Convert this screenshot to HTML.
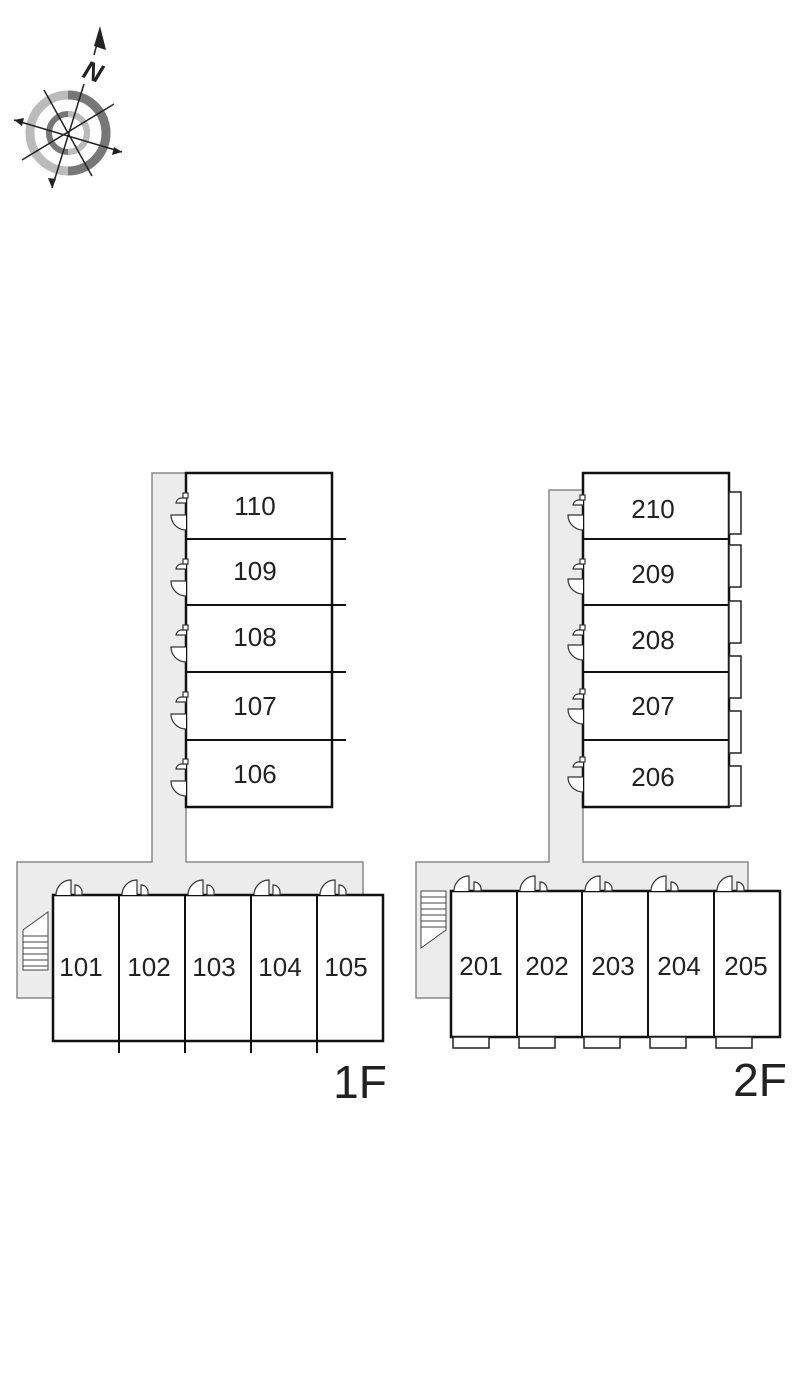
<!DOCTYPE html>
<html><head><meta charset="utf-8"><style>
html,body{margin:0;padding:0;background:#fff;}
svg{display:block;}
text{font-family:"Liberation Sans",sans-serif;fill:#222;}
</style></head><body>
<svg width="800" height="1373" viewBox="0 0 800 1373" xmlns="http://www.w3.org/2000/svg">
<!-- Compass -->
<g>
<circle cx="68" cy="133" r="38" fill="none" stroke="#bbb" stroke-width="9"/>
<path d="M68 95 A38 38 0 0 1 68 171" fill="none" stroke="#777" stroke-width="9"/>
<circle cx="68" cy="133" r="19" fill="none" stroke="#777" stroke-width="6"/>
<path d="M68 114 A19 19 0 0 1 68 152" fill="none" stroke="#bbb" stroke-width="6"/>
<g stroke="#222" stroke-width="1.5">
<line x1="14" y1="120" x2="122" y2="152"/>
<line x1="52" y1="188" x2="84" y2="84"/>
<line x1="44" y1="90" x2="92" y2="176"/>
<line x1="22" y1="160" x2="114" y2="104"/>
</g>
<polygon points="14,120 24,118 22,126" fill="#222"/>
<polygon points="122,152 112,155 114,147" fill="#222"/>
<polygon points="52,188 48,178 56,179" fill="#222"/>
<polygon points="100,26 106,50 94,46" fill="#222"/>
<line x1="98" y1="40" x2="94" y2="55" stroke="#222" stroke-width="1.5"/>
<text x="0" y="0" font-size="26" font-style="italic" font-weight="bold" font-family="Liberation Serif,serif" text-anchor="middle" transform="translate(90 80) rotate(20)">N</text>
</g>

<!-- ===== 1F ===== -->
<g>
<path d="M152 473 H186 V862 H363 V895 H53 V998 H17 V862 H152 Z" fill="#ececec" stroke="#888" stroke-width="1.5"/>
<g stroke="#444" stroke-width="1" fill="#fff">
<polygon points="23,930 48,912 48,970 23,970"/>
<line x1="23" y1="936" x2="48" y2="936"/><line x1="23" y1="942" x2="48" y2="942"/>
<line x1="23" y1="948" x2="48" y2="948"/><line x1="23" y1="954" x2="48" y2="954"/>
<line x1="23" y1="960" x2="48" y2="960"/><line x1="23" y1="966" x2="48" y2="966"/>
</g>
<rect x="186" y="473" width="146" height="334" fill="#fff" stroke="#111" stroke-width="2.5"/>
<g stroke="#111" stroke-width="2">
<line x1="186" y1="539" x2="346" y2="539"/>
<line x1="186" y1="605" x2="346" y2="605"/>
<line x1="186" y1="672" x2="346" y2="672"/>
<line x1="186" y1="740" x2="346" y2="740"/>
</g>
<g font-size="26" text-anchor="middle">
<text x="255" y="515">110</text><text x="255" y="580">109</text>
<text x="255" y="646">108</text><text x="255" y="715">107</text>
<text x="255" y="783">106</text>
</g>
<rect x="53" y="895" width="330" height="146" fill="#fff" stroke="#111" stroke-width="2.5"/>
<g stroke="#111" stroke-width="2">
<line x1="119" y1="895" x2="119" y2="1053"/><line x1="185" y1="895" x2="185" y2="1053"/>
<line x1="251" y1="895" x2="251" y2="1053"/><line x1="317" y1="895" x2="317" y2="1053"/>
</g>
<g font-size="26" text-anchor="middle">
<text x="81" y="976">101</text><text x="149" y="976">102</text><text x="214" y="976">103</text>
<text x="280" y="976">104</text><text x="346" y="976">105</text>
</g>
<text x="360" y="1098" font-size="46" text-anchor="middle">1F</text>
</g>

<!-- ===== 2F ===== -->
<g>
<path d="M549 490 H583 V862 H748 V891 H451 V998 H416 V862 H549 Z" fill="#ececec" stroke="#888" stroke-width="1.5"/>
<g stroke="#444" stroke-width="1" fill="#fff">
<polygon points="421,891 446,891 446,930 421,948"/>
<line x1="421" y1="897" x2="446" y2="897"/><line x1="421" y1="903" x2="446" y2="903"/>
<line x1="421" y1="909" x2="446" y2="909"/><line x1="421" y1="915" x2="446" y2="915"/>
<line x1="421" y1="921" x2="446" y2="921"/><line x1="421" y1="927" x2="446" y2="927"/>
</g>
<rect x="583" y="473" width="146" height="334" fill="#fff" stroke="#111" stroke-width="2.5"/>
<g stroke="#111" stroke-width="2">
<line x1="583" y1="539" x2="729" y2="539"/><line x1="583" y1="605" x2="729" y2="605"/>
<line x1="583" y1="672" x2="729" y2="672"/><line x1="583" y1="740" x2="729" y2="740"/>
</g>
<g fill="#fff" stroke="#222" stroke-width="1.5">
<rect x="729" y="492" width="12" height="42"/><rect x="729" y="545" width="12" height="42"/>
<rect x="729" y="601" width="12" height="42"/><rect x="729" y="656" width="12" height="42"/>
<rect x="729" y="711" width="12" height="42"/><rect x="729" y="766" width="12" height="40"/>
</g>
<g font-size="26" text-anchor="middle">
<text x="653" y="518">210</text><text x="653" y="583">209</text>
<text x="653" y="649">208</text><text x="653" y="715">207</text>
<text x="653" y="786">206</text>
</g>
<rect x="451" y="891" width="329" height="146" fill="#fff" stroke="#111" stroke-width="2.5"/>
<g stroke="#111" stroke-width="2">
<line x1="517" y1="891" x2="517" y2="1037"/><line x1="582" y1="891" x2="582" y2="1037"/>
<line x1="648" y1="891" x2="648" y2="1037"/><line x1="714" y1="891" x2="714" y2="1037"/>
</g>
<g fill="#fff" stroke="#222" stroke-width="1.5">
<rect x="453" y="1037" width="36" height="11"/><rect x="519" y="1037" width="36" height="11"/>
<rect x="584" y="1037" width="36" height="11"/><rect x="650" y="1037" width="36" height="11"/>
<rect x="716" y="1037" width="36" height="11"/>
</g>
<g font-size="26" text-anchor="middle">
<text x="481" y="975">201</text><text x="547" y="975">202</text><text x="613" y="975">203</text>
<text x="679" y="975">204</text><text x="746" y="975">205</text>
</g>
<text x="760" y="1096" font-size="46" text-anchor="middle">2F</text>
</g>

<!-- doors -->
<g fill="#fff" stroke="#333" stroke-width="1.2">
<g id="vd1">
<path d="M186 515 H171 A15 15 0 0 0 186 530"/>
<path d="M186 498 h-5 a6 6 0 0 0 -5 5 h10"/><rect x="183" y="493" width="5" height="5"/>
</g>
<use href="#vd1" y="66"/><use href="#vd1" y="132"/><use href="#vd1" y="199"/><use href="#vd1" y="266"/>
<g id="vd2">
<path d="M583 515 H568 A15 15 0 0 0 583 530"/>
<path d="M583 500 h-5 a6 6 0 0 0 -5 5 h10"/><rect x="580" y="495" width="5" height="5"/>
</g>
<use href="#vd2" y="64"/><use href="#vd2" y="130"/><use href="#vd2" y="194"/><use href="#vd2" y="262"/>
<g id="hd1">
<path d="M56 895 A15 15 0 0 1 71 880 V895"/>
<path d="M75 895 V885 a7 7 0 0 1 7 7 v3 Z"/>
</g>
<use href="#hd1" x="66"/><use href="#hd1" x="132"/><use href="#hd1" x="198"/><use href="#hd1" x="264"/>
<g id="hd2">
<path d="M454 891 A15 15 0 0 1 469 876 V891"/>
<path d="M474 891 V882 a7 7 0 0 1 7 7 v2 Z"/>
</g>
<use href="#hd2" x="66"/><use href="#hd2" x="131"/><use href="#hd2" x="197"/><use href="#hd2" x="263"/>
</g>
</svg>
</body></html>
